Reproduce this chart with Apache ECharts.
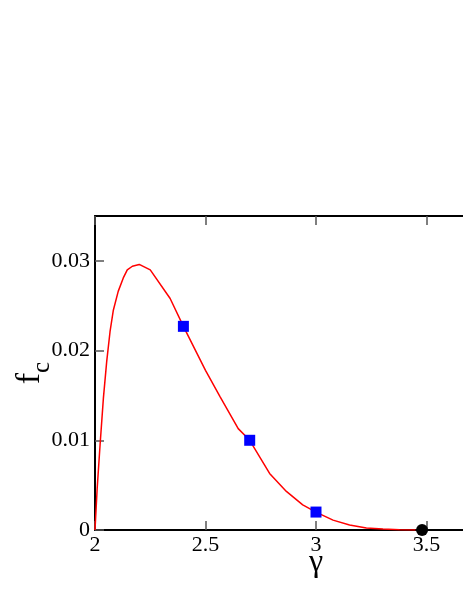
<!DOCTYPE html>
<html>
<head>
<meta charset="utf-8">
<script src="https://cdn.jsdelivr.net/npm/echarts@6/dist/echarts.min.js"></script>
<style>
  html, body { margin: 0; padding: 0; background: #fff; }
  #chart { width: 463px; height: 599px; }
</style>
</head>
<body>
<div id="chart"></div>
<script>
// curve f_c(gamma)
const curveGamma = [2.0, 2.01, 2.023, 2.038, 2.053, 2.068, 2.083, 2.105, 2.128, 2.146, 2.169, 2.2, 2.25, 2.34, 2.4,
  2.5, 2.565, 2.648, 2.7, 2.79, 2.866, 2.94, 3.0, 3.077, 3.152, 3.228, 3.303, 3.378, 3.45]
const curveF = [0, 0.0047, 0.0095, 0.0147, 0.0188, 0.0221, 0.0245, 0.0266, 0.0281, 0.029, 0.0294, 0.0296, 0.029, 0.0258, 0.0227,
  0.0178, 0.0149, 0.0113, 0.01, 0.0063, 0.0043, 0.0028, 0.002, 0.0011, 0.00056, 0.00022, 0.0001, 0.00002, 0]

// blue squares
const squareGamma = [2.4, 2.7, 3.0]
const squareF = [0.0227, 0.01, 0.002]

// black dot
const dotGamma = [3.48]
const dotF = [0]

const xMin = 2, xMax = 4, xStep = 0.5
const yMin = 0, yMax = 0.035, yStep = 0.01

const zip = (a, b) => a.map((v, i) => [v, b[i]])

const chart = echarts.init(document.getElementById("chart"))

const serif = "'Liberation Serif', 'Times New Roman', serif"
const tickStyle = { show: true, inside: true, length: 9, lineStyle: { color: "#555", width: 1.5 } }
const lineStyle = { show: true, onZero: false, lineStyle: { color: "#000", width: 2 } }

chart.setOption({
  animation: false,
  backgroundColor: "#fff",
  // plot runs past the right edge of the picture (x max 4 is off-canvas)
  grid: { left: 95, top: 216, right: -74, bottom: 69, containLabel: false, outerBoundsMode: "none" },
  xAxis: [
    {
      type: "value",
      min: xMin,
      max: xMax,
      interval: xStep,
      position: "bottom",
      axisLine: lineStyle,
      axisTick: tickStyle,
      splitLine: { show: false },
      axisLabel: { fontFamily: serif, fontSize: 22, color: "#000", margin: 4 },
      name: "γ",
      nameLocation: "middle",
      nameGap: 17,
      nameMoveOverlap: false,
      nameTextStyle: { fontFamily: serif, fontSize: 32, color: "#000" }
    },
    {
      type: "value",
      min: xMin,
      max: xMax,
      interval: xStep,
      position: "top",
      axisLine: lineStyle,
      axisTick: tickStyle,
      splitLine: { show: false },
      axisLabel: { show: false }
    }
  ],
  yAxis: [
    {
      type: "value",
      min: yMin,
      max: yMax,
      interval: yStep,
      axisLine: lineStyle,
      axisTick: tickStyle,
      splitLine: { show: false },
      axisLabel: { fontFamily: serif, fontSize: 22, color: "#000", margin: 5, showMaxLabel: false },
      name: "{f|f}{c|c}",
      nameLocation: "middle",
      nameGap: 40,
      nameMoveOverlap: false,
      nameTextStyle: {
        rich: {
          f: { fontFamily: serif, fontSize: 34, color: "#000", verticalAlign: "bottom", padding: [0, 0, 8, 0] },
          c: { fontFamily: serif, fontSize: 25, color: "#000", verticalAlign: "bottom" }
        }
      }
    }
  ],
  series: [
    {
      type: "line",
      data: zip(curveGamma, curveF),
      showSymbol: false,
      symbol: "none",
      lineStyle: { color: "#ff0000", width: 1.5 },
      z: 2
    },
    {
      type: "scatter",
      data: zip(squareGamma, squareF),
      symbol: "rect",
      symbolSize: 11,
      itemStyle: { color: "#0000ff", opacity: 1 },
      z: 3
    },
    {
      type: "scatter",
      data: zip(dotGamma, dotF),
      symbol: "circle",
      symbolSize: 12,
      itemStyle: { color: "#000", opacity: 1 },
      z: 4
    }
  ]
})
</script>
</body>
</html>
